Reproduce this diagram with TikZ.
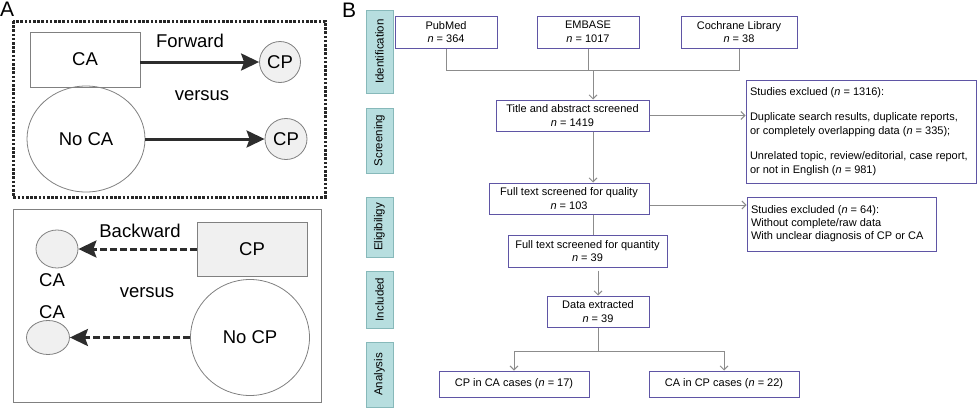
\documentclass[tikz,border=0pt]{standalone}
\usepackage{fontspec}
\setmainfont{Liberation Sans}
\usetikzlibrary{arrows.meta,positioning,shapes.geometric,calc}
\definecolor{stagefill}{RGB}{183,222,223}
\definecolor{stageline}{RGB}{135,185,186}
\definecolor{flowline}{RGB}{95,85,165}
\definecolor{linkgray}{RGB}{140,140,140}
\definecolor{darkarrow}{RGB}{45,45,45}
\newcommand{\nval}{\textit{n}}

\begin{document}
\begin{tikzpicture}[
    x=1pt, y=-1pt,
    big/.style={font=\fontsize{18.5}{22}\selectfont},
    plainbox/.style={rectangle, draw=gray, line width=0.8pt, inner sep=0pt, big},
    bubble/.style={ellipse, draw=gray, line width=0.8pt, inner sep=0pt, big},
    fwd/.style={-{Stealth[length=18pt,width=17pt,inset=3pt]}, line width=3pt, darkarrow},
    bwd/.style={fwd, dash pattern=on 7pt off 3pt},
    box/.style={rectangle, draw=flowline, line width=1pt, align=center,
                inner sep=2pt, font=\fontsize{11}{13.6}\selectfont},
    note/.style={box, align=flush left, inner sep=4pt},
    stage/.style={rectangle, draw=stageline, fill=stagefill, line width=1pt,
                  rotate=90, minimum height=27pt, inner sep=0pt,
                  font=\fontsize{11.5}{13}\selectfont},
    link/.style={linkgray, line width=0.9pt},
    arrow/.style={link, -{Straight Barb[length=4pt,width=8pt]}}
]
\useasboundingbox (0,0) rectangle (980,410);

% Panel A
\node[anchor=base west, inner sep=0pt, font=\fontsize{21}{24}\selectfont] (labA) at (0,16) {A};
\draw[line width=3pt, dash pattern=on 2.6pt off 1.6pt, black!85] (13,21) rectangle (325,197);
\draw[gray, line width=1pt] (13,209) rectangle (321,402);

\node[plainbox, minimum width=110pt, minimum height=55pt] (carect) at (85,59.5) {CA};
\node[bubble, fill=gray!12, minimum width=41pt, minimum height=41pt] (cpone) at (280,62) {CP};
\node[bubble, minimum width=118pt, minimum height=106pt] (noca) at (86,139) {No CA};
\node[bubble, fill=gray!12, minimum width=42pt, minimum height=41pt] (cptwo) at (286,139) {CP};
\node[big] (fwdtxt) at (190,41) {Forward};
\node[big] (vsone) at (202,96) {versus};
\draw[fwd] (carect.east |- cpone) -- (cpone.west);
\draw[fwd] (noca.east |- cptwo) -- (cptwo.west);

\node[plainbox, fill=gray!12, minimum width=110pt, minimum height=54pt] (cprect) at (252,249) {CP};
\node[bubble, fill=gray!12, minimum width=42pt, minimum height=38pt] (caone) at (57,249) {};
\node[bubble, minimum width=119pt, minimum height=116pt] (nocp) at (250,337.5) {No CP};
\node[bubble, fill=gray!12, minimum width=43pt, minimum height=34pt] (catwo) at (48,337.5) {};
\node[big] (bwdtxt) at (140,231) {Backward};
\node[big] (vstwo) at (147,293) {versus};
\node[big] (catxtone) at (52,280) {CA};
\node[big] (catxttwo) at (52,312) {CA};
\draw[bwd] (cprect.west) -- (caone.east);
\draw[bwd] (nocp.west) -- (catwo.east);

% Panel B
\node[anchor=base west, inner sep=0pt, font=\fontsize{21}{24}\selectfont] (labB) at (342,17) {B};

\node[stage, minimum width=83pt] (ident) at (379.5,51.5) {Identification};
\node[stage, minimum width=65pt] (screen) at (379.5,140.5) {Screening};
\node[stage, minimum width=60pt] (elig) at (379.5,227) {Eligibiligy};
\node[stage, minimum width=57pt] (incl) at (379.5,299.5) {Included};
\node[stage, minimum width=65pt] (anal) at (379.5,374.5) {Analysis};

\node[box, minimum width=102pt, minimum height=32pt] (pub) at (446,32) {PubMed\\\nval{} = 364};
\node[box, minimum width=102pt, minimum height=32pt] (emb) at (588,32) {EMBASE\\\nval{} = 1017};
\node[box, minimum width=116pt, minimum height=32pt] (coch) at (739,32) {Cochrane Library\\\nval{} = 38};
\node[box, minimum width=153pt, minimum height=31pt] (title) at (572.5,115.5) {Title and abstract screened\\\nval{} = 1419};
\node[note, text width=222pt, minimum height=103pt] (exclone) at (861,131.5)
    {Studies exclued (\nval{} = 1316):\\[12pt]
     Duplicate search results, duplicate reports,\\
     or completely overlapping data (\nval{} = 335);\\[12pt]
     Unrelated topic, review/editorial, case report,\\
     or not in English (\nval{} = 981)};
\node[box, minimum width=160pt, minimum height=31pt] (qual) at (569,198.5) {Full text screened for quality\\\nval{} = 103};
\node[note, text width=181pt, minimum height=54pt, font=\fontsize{11}{13}\selectfont] (excltwo) at (841.5,224)
    {Studies excluded (\nval{} = 64):\\
     Without complete/raw data\\
     With unclear diagnosis of CP or CA};
\node[box, minimum width=159pt, minimum height=32pt] (quant) at (587.5,251) {Full text screened for quantity\\\nval{} = 39};
\node[box, minimum width=102pt, minimum height=31pt] (data) at (598,311.5) {Data extracted\\\nval{} = 39};
\node[box, minimum width=150pt, minimum height=26pt] (cpca) at (514,384) {CP in CA cases (\nval{} = 17)};
\node[box, minimum width=150pt, minimum height=26pt] (capc) at (724,384) {CA in CP cases (\nval{} = 22)};

\coordinate (junc) at (593,70);
\coordinate (split) at (598,351);
\draw[link] (pub.south) -- (pub.south |- junc) -| (coch.south);
\draw[link] (emb.south) -- (emb.south |- junc);
\draw[arrow] (junc) -- (junc |- title.north);
\draw[arrow] (junc |- title.south) -- (junc |- qual.north);
\draw[arrow] (title.east) -- (title.east -| exclone.west);
\draw[arrow] ([yshift=-6.5pt]qual.east) -- ([yshift=-6.5pt]qual.east -| excltwo.west);
\draw[link] (junc |- qual.south) -- (junc |- quant.north);
\draw[arrow] ([yshift=-3pt]data.north |- quant.south) -- (data.north);
\draw[link] (data.south) -- (split);
\draw[arrow] (split) -| (cpca.north);
\draw[arrow] (split) -| (capc.north);

\end{tikzpicture}
\end{document}
